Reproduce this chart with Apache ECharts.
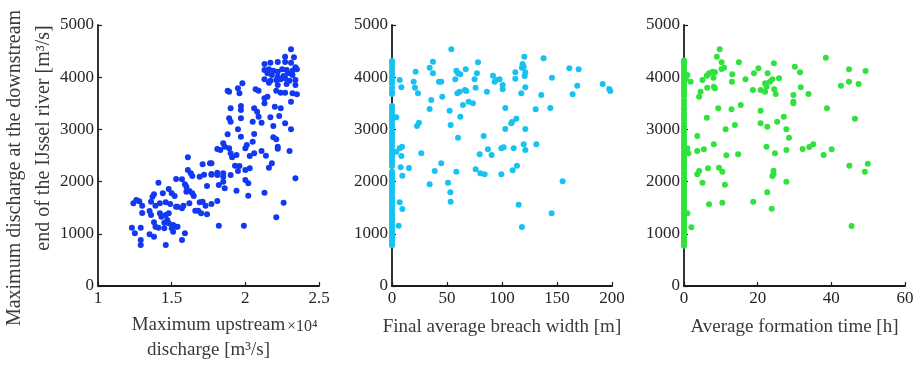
<!DOCTYPE html>
<html>
<head>
<meta charset="utf-8">
<script src="https://cdn.jsdelivr.net/npm/echarts@6/dist/echarts.min.js"></script>
<style>
html, body { margin: 0; background: #fff; }
#chart { width: 921px; height: 368px; }
</style>
</head>
<body>
<div id="chart"></div>
<script>
// values; x of the first panel is in units of 10^4 m3/s
var upstreamVsDownstream = [
  [1.23,1117],[1.24,1584],[1.26,1647],[1.28,1622],[1.25,1009],[1.29,1117],[1.30,1539],[1.30,1398],
  [1.29,881],[1.29,785],[1.35,990],[1.61,2465],[1.61,2222],[1.63,2158],[1.64,2107],[1.71,2331],
  [1.76,2350],[1.77,2146],[1.72,2133],[1.69,2094],[1.53,2050],[1.57,2043],[1.41,1980],[1.48,1858],
  [1.50,1775],[1.52,1724],[1.59,1948],[1.60,1903],[1.60,1807],[1.62,1820],[1.64,1775],[1.65,1724],
  [1.74,1916],[1.44,1775],[1.38,1756],[1.37,1711],[1.36,1615],[1.39,1539],[1.42,1583],[1.46,1603],
  [1.49,1571],[1.53,1520],[1.54,1520],[1.57,1488],[1.58,1539],[1.62,1583],[1.69,1603],[1.71,1615],
  [1.73,1539],[1.77,1571],[1.66,1443],[1.68,1443],[1.70,1392],[1.74,1373],[1.35,1437],[1.36,1360],
  [1.42,1392],[1.43,1328],[1.46,1360],[1.48,1392],[1.47,1264],[1.38,1220],[1.45,1213],[1.48,1200],
  [1.51,1168],[1.53,1136],[1.39,1136],[1.41,1117],[1.45,1105],[1.50,1105],[1.54,1136],[1.51,1041],
  [1.59,1009],[1.38,945],[1.57,881],[1.46,785],
  [2.31,4534],[2.27,4393],[2.33,4381],[2.13,4253],[2.17,4278],[2.22,4291],[2.27,4291],[2.31,4278],
  [2.34,4189],[2.13,4138],[2.16,4151],[2.19,4125],[2.22,4106],[2.25,4151],[2.28,4138],[2.32,4125],
  [2.35,4151],[2.15,4074],[2.18,4042],[2.22,4010],[2.26,4023],[2.29,4074],[2.32,4042],[2.13,3959],
  [2.17,3934],[2.21,3946],[2.24,3959],[2.27,3978],[2.30,3934],[2.34,3946],[2.16,3895],[2.22,3851],
  [2.28,3870],[2.34,3851],[2.21,3742],[2.24,3704],[2.27,3704],[2.32,3691],[2.35,3672],[2.31,3531],
  [1.88,3742],[1.89,3723],[1.95,3787],[1.96,3691],[1.98,3882],[2.07,3767],[2.09,3742],[2.13,3595],
  [2.15,3627],[2.13,3499],[2.20,3435],[2.24,3404],[1.90,3404],[1.97,3448],[1.97,3372],[2.06,3404],
  [2.08,3340],[2.09,3244],[1.89,3212],[1.90,3148],[1.97,3212],[2.05,3148],[2.11,3129],[2.17,3231],
  [2.23,3257],[2.27,3116],[2.19,3065],[2.31,3001],[1.95,3001],[1.88,2905],[1.97,2861],[2.06,2912],
  [2.19,2848],[2.21,2810],[2.05,2765],[2.01,2701],[1.85,2733],[1.86,2669],[1.89,2637],[1.81,2624],
  [1.83,2605],[1.90,2541],[1.91,2465],[1.94,2509],[2.00,2637],[2.03,2490],[2.06,2541],[2.11,2586],
  [2.14,2497],[2.22,2669],[2.22,2631],[2.30,2586],[1.77,2350],[1.93,2305],[1.96,2299],[2.03,2254],
  [2.00,2222],[2.18,2350],[2.16,2267],[1.77,2133],[1.81,2126],[1.81,2171],[1.85,2158],[1.85,2094],
  [1.90,2126],[1.95,2203],[2.34,2062],[1.82,1935],[1.85,1999],[1.86,1871],[2.00,2031],[2.02,1967],
  [1.94,1826],[2.02,1730],[2.13,1788],[1.81,1628],[2.26,1596],[2.21,1315],[1.82,1156],[1.99,1156]
];

var breachColumn = [4310,4260,4190,4120,4060,3990,3930,3880,3800,3720,3680,3450,3400,3330,3270,3210,
  3170,3100,3040,2960,2910,2850,2790,2740,2680,2610,2570,2520,2470,2410,2360,2300,2190,2140,2100,2060,
  2010,1960,1920,1880,1830,1790,1740,1700,1660,1610,1570,1520,1480,1430,1390,1350,1300,1260,1210,1170,
  1120,1080,1030,990,940,900,860,810,780];

var breachVsDownstream = [
  [53.9,4534],[37.2,4298],[34.2,4183],[21.5,4106],[7.0,3946],[19.7,3914],[37.2,4074],[42.7,3914],
  [44.8,3914],[8.5,3806],[20.9,3799],[23.6,3691],[58.5,4125],[60.0,4074],[62.1,4055],[67.0,4151],
  [78.2,4285],[77.2,4074],[75.1,3959],[57.5,3959],[59.4,3691],[61.5,3723],[66.3,3755],[67.5,3735],
  [45.7,3627],[35.7,3563],[76.0,3799],[86.3,3723],[91.8,4029],[93.3,3914],[94.8,3946],[97.8,3959],
  [69.7,3531],[73.6,3499],[64.5,3467],[34.2,3391],[52.4,3359],[62.1,3244],[0.9,3244],[3.9,3231],
  [24.5,3129],[22.7,3065],[53.3,3084],[60.0,2842],[83.3,2874],[87.2,2618],[79.7,2522],[90.6,2509],
  [99.4,2637],[3.9,2573],[7.0,2637],[9.1,2669],[8.5,2490],[26.6,2541],[7.9,2273],[15.4,2260],
  [9.4,2113],[44.8,2350],[38.8,2203],[58.5,2190],[76.0,2235],[80.3,2158],[84.2,2139],[99.4,2139],
  [34.2,1948],[50.9,1980],[53.0,1794],[53.3,1615],[7.0,1603],[9.4,1475],[6.0,1156],
  [120.3,4393],[137.8,4361],[118.7,4253],[119.7,4202],[118.1,4183],[112.1,4093],[121.2,4093],
  [120.6,4023],[112.1,3972],[100.6,3850],[100.6,3767],[121.2,3806],[117.5,3691],[145.4,3991],
  [161.2,4170],[169.7,4151],[168.4,3838],[164.2,3672],[191.5,3870],[197.5,3774],[198.4,3735],
  [135.7,3659],[103.0,3410],[130.6,3384],[143.9,3410],[113.0,3206],[109.1,3142],[108.4,3116],
  [103.0,3007],[121.2,3007],[101.5,2656],[110.6,2637],[119.7,2714],[121.2,2605],[131.2,2714],
  [113.6,2305],[109.7,2216],[155.1,2005],[115.1,1558],[145.1,1392],[118.1,1130]
];

var formationColumn = [4320,4270,4210,4150,4090,4040,3980,3920,3870,3810,3760,3700,3640,3560,3490,3420,
  3380,3310,3250,3190,3120,3060,3000,2940,2880,2820,2760,2700,2640,2590,2530,2480,2420,2370,2310,2250,
  2180,2130,2070,2020,1970,1910,1860,1810,1760,1700,1650,1590,1540,1490,1440,1390,1340,1290,1240,1190,
  1140,1090,1040,990,950,900,850,800,770];

var formationVsDownstream = [
  [9.7,4534],[8.9,4393],[10.2,4285],[10.9,4183],[10.2,4157],[14.9,4285],[7.7,4106],[8.4,4093],
  [6.8,4074],[6.2,4029],[5.0,3946],[8.0,3991],[8.1,3819],[8.4,3787],[6.3,3799],[4.5,3723],[4.1,3627],
  [1.8,3914],[0.9,4042],[0.5,3970],[13.1,4055],[13.0,3914],[16.7,3959],[19.0,4074],[20.2,4170],
  [22.7,4074],[24.4,4266],[24.0,3959],[23.3,3914],[22.0,3882],[22.4,3819],[25.8,3978],[18.7,3755],
  [20.8,3755],[22.0,3723],[24.5,3767],[24.9,3678],[9.3,3404],[12.9,3384],[15.4,3467],[20.8,3359],
  [6.2,3225],[11.3,3001],[13.8,3084],[20.8,3116],[22.6,3052],[25.3,3148],[27.1,3244],[27.8,3001],
  [28.5,2842],[3.6,2873],[3.6,2586],[5.4,2618],[8.1,2714],[0.9,2637],[1.2,2541],[11.5,2503],
  [14.7,2522],[22.4,2669],[24.7,2541],[27.8,2605],[3.6,2139],[4.1,2203],[6.5,2254],[9.5,2267],
  [10.4,2190],[5.0,1979],[11.1,1941],[24.3,2209],[24.0,2107],[24.3,2139],[22.6,1794],[27.8,1999],
  [6.8,1564],[10.4,1596],[18.8,1615],[23.8,1481],[0.9,1392],[2.0,1124],
  [38.5,4374],[30.1,4202],[31.5,4093],[44.8,4151],[49.3,4119],[42.6,3838],[44.8,3914],[47.4,3870],
  [31.7,3806],[29.7,3659],[33.8,3678],[29.7,3531],[29.7,3499],[38.8,3404],[46.4,3206],[32.2,2624],
  [34.0,2663],[35.1,2714],[37.9,2509],[40.1,2618],[44.9,2305],[49.9,2343],[49.1,2190],[45.5,1149]
];

var yTicks = { min: 0, max: 5000, step: 1000 };
var xTicks = [
  { min: 1, max: 2.5, step: 0.5 },
  { min: 0, max: 200, step: 50 },
  { min: 0, max: 60, step: 20 }
];
var xNames = ['Maximum upstream\ndischarge [m³/s]', 'Final average breach width [m]', 'Average formation time [h]'];
var colors = ['#1238f2', '#17c2f2', '#2fe23c'];

var serif = 'Liberation Serif';
var ink = '#1c1c1c';

function axisBits() {
  return {
    axisLine: { show: true, onZero: false, lineStyle: { color: ink, width: 1.8 } },
    axisTick: { show: true, inside: true, length: 4, lineStyle: { color: ink, width: 1.2 } },
    axisLabel: {
      color: '#262626', fontFamily: serif, fontSize: 17, margin: 4,
      formatter: function (v) { return String(v); }
    },
    splitLine: { show: false }
  };
}

var grids = [
  { left: 98, top: 25, width: 221, height: 261 },
  { left: 392, top: 25, width: 220, height: 261 },
  { left: 684, top: 25, width: 221, height: 261 }
];

var xAxes = xTicks.map(function (t, i) {
  return Object.assign({
    type: 'value', gridIndex: i, min: t.min, max: t.max, interval: t.step,
    name: xNames[i], nameLocation: 'middle', nameGap: i === 0 ? 27 : 29,
    nameTextStyle: { color: '#3a3a3a', fontFamily: serif, fontSize: 19, lineHeight: 25 }
  }, axisBits());
});

var yAxes = grids.map(function (g, i) {
  return Object.assign({
    type: 'value', gridIndex: i, min: yTicks.min, max: yTicks.max, interval: yTicks.step
  }, axisBits());
});

function withColumn(col, pts) {
  return col.map(function (v) { return [0, v]; }).concat(pts);
}

var seriesData = [
  upstreamVsDownstream,
  withColumn(breachColumn, breachVsDownstream),
  withColumn(formationColumn, formationVsDownstream)
];

var chart = echarts.init(document.getElementById('chart'), null, { renderer: 'canvas' });
chart.setOption({
  animation: false,
  backgroundColor: '#fff',
  grid: grids,
  xAxis: xAxes,
  yAxis: yAxes,
  series: seriesData.map(function (d, i) {
    return {
      type: 'scatter', xAxisIndex: i, yAxisIndex: i, data: d,
      symbol: 'circle', symbolSize: 6,
      itemStyle: { color: colors[i], opacity: 1 }
    };
  }),
  graphic: [
    {
      type: 'text', x: 15, y: 168, rotation: Math.PI / 2,
      style: { text: 'Maximum discharge at the downstream', fill: '#3a3a3a', font: '20px "Liberation Serif"', align: 'center', verticalAlign: 'middle' }
    },
    {
      type: 'text', x: 44, y: 138, rotation: Math.PI / 2,
      style: { text: 'end of the IJssel river [m³/s]', fill: '#3a3a3a', font: '20px "Liberation Serif"', align: 'center', verticalAlign: 'middle' }
    },
    {
      type: 'text', x: 287, y: 327,
      style: { text: '×10⁴', fill: '#3a3a3a', font: '16px "Liberation Serif"', align: 'left', verticalAlign: 'middle' }
    }
  ]
});
</script>
</body>
</html>
